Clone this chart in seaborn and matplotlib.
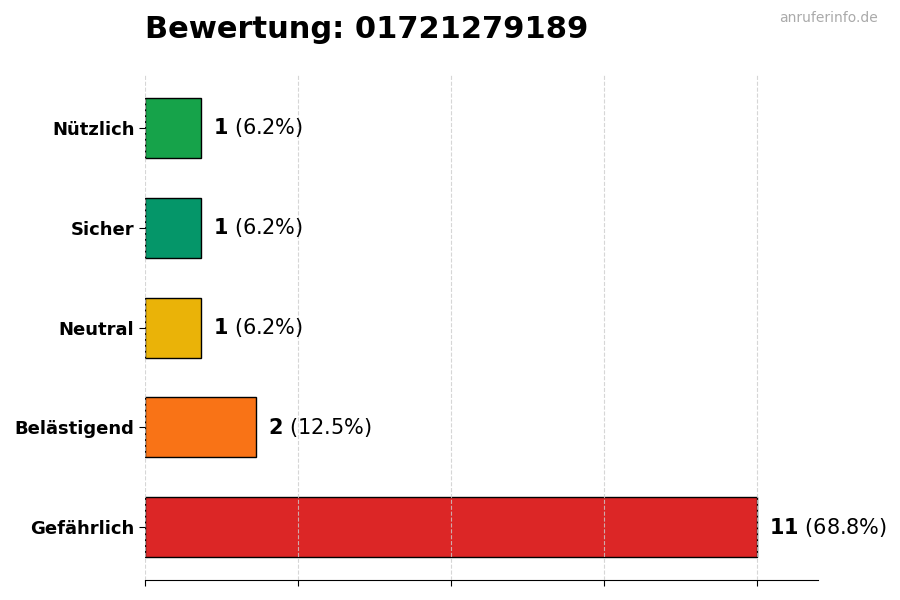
import matplotlib
matplotlib.use("Agg")
import matplotlib.pyplot as plt
import seaborn as sns
import numpy as np
import pandas as pd

# Daten
kategorien = ["Nützlich", "Sicher", "Neutral", "Belästigend", "Gefährlich"]
anzahl = [1, 1, 1, 2, 11]
prozent = [6.2, 6.2, 6.2, 12.5, 68.8]
farben = ["#16a34a", "#059669", "#eab308", "#f97316", "#dc2626"]

df = pd.DataFrame({"kategorie": kategorien, "anzahl": anzahl})

sns.set_style("white")
plt.rcParams.update({"text.color": "black", "axes.labelcolor": "black",
                     "xtick.color": "black", "ytick.color": "black"})
fig = plt.figure(figsize=(9, 6), dpi=100)
ax = fig.add_axes([0.161, 0.033, 0.748, 0.842])

sns.barplot(data=df, y="kategorie", x="anzahl", hue="kategorie",
            palette=farben, orient="h", width=0.6, edgecolor="black",
            linewidth=1, saturation=1, legend=False, ax=ax)

max_wert = max(anzahl)
ax.set_xlim(0, max_wert * 1.1)
ax.set_ylim(4.53, -0.53)
ax.set_xticks(np.linspace(0, max_wert, 5))
ax.set_xticklabels([])
ax.grid(axis="x", linestyle="--", color="#cccccc", alpha=0.8)
ax.set_axisbelow(False)
ax.set_xlabel("")
ax.set_ylabel("")
for s in ["top", "right", "left"]:
    ax.spines[s].set_visible(False)
ax.spines["bottom"].set_color("black")
ax.tick_params(axis="both", length=4, color="black", bottom=True, left=True)
for lbl in ax.get_yticklabels():
    lbl.set_fontweight("bold")
    lbl.set_fontsize(13)

for i, (n, p) in enumerate(zip(anzahl, prozent)):
    ax.text(n + max_wert * 0.02, i, f"$\\bf{{{n}}}$ ({p}%)",
            va="center", ha="left", fontsize=15)

fig.text(0.161, 0.95, "Bewertung: 01721279189", fontsize=22,
         fontweight="bold", ha="left", va="center")
fig.text(0.975, 0.97, "anruferinfo.de", fontsize=10, color="#aaaaaa",
         ha="right", va="center")

fig.savefig("out.png", dpi=100)
